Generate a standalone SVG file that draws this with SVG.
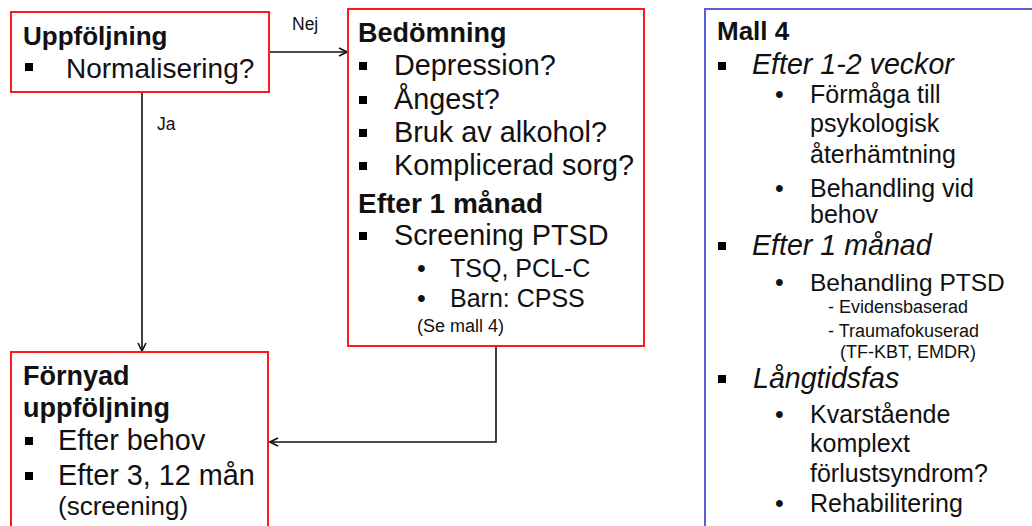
<svg xmlns="http://www.w3.org/2000/svg" width="1032" height="526" viewBox="0 0 1032 526">
<style>
.box{fill:#fff;stroke:#ff1a1a;stroke-width:2}
.bbox{fill:#fff;stroke:#5c5cd6;stroke-width:2}
text{font-family:"Liberation Sans",Arial,sans-serif;fill:#111}
.h{font-size:27px;font-weight:bold}
.t{font-size:28.8px}
.s{font-size:25px}
.i{font-size:28.6px;font-style:italic}
.xs{font-size:18px}
.lbl{font-size:17.5px}
.sq{fill:#000}
.con{fill:none;stroke:#111;stroke-width:1.6}
</style>
<defs>
<marker id="arr" viewBox="0 0 10 10" refX="9" refY="5" markerWidth="10" markerHeight="10" markerUnits="userSpaceOnUse" orient="auto">
<path d="M1,1 L9,5 L1,9" fill="none" stroke="#111" stroke-width="1.6"/>
</marker>
</defs>
<rect width="1032" height="526" fill="#fff"/>

<g id="connectors">
<line class="con" x1="269" y1="52" x2="347" y2="52" marker-end="url(#arr)"/>
<line class="con" x1="142" y1="92" x2="142" y2="351" marker-end="url(#arr)"/>
<polyline class="con" points="496,346 496,442 270,442" marker-end="url(#arr)"/>
<text class="lbl" x="292" y="30">Nej</text>
<text class="lbl" x="157" y="130">Ja</text>
</g>

<g id="uppfoljning">
<rect class="box" x="11" y="12" width="258" height="80"/>
<text class="h" x="23" y="45" style="font-size:26px">Uppföljning</text>
<rect class="sq" x="25" y="63" width="8" height="8"/>
<text class="t" x="66" y="78" style="font-size:28px">Normalisering?</text>
</g>

<g id="bedomning">
<rect class="box" x="348" y="9" width="296" height="337"/>
<text class="h" x="358" y="42">Bedömning</text>
<rect class="sq" x="359" y="62" width="8" height="8"/>
<text class="t" x="394" y="75">Depression?</text>
<rect class="sq" x="359" y="96" width="8" height="8"/>
<text class="t" x="394" y="109">Ångest?</text>
<rect class="sq" x="359" y="129" width="8" height="8"/>
<text class="t" x="394" y="142">Bruk av alkohol?</text>
<rect class="sq" x="359" y="162" width="8" height="8"/>
<text class="t" x="394" y="175">Komplicerad sorg?</text>
<text class="h" x="358" y="213" style="font-size:28px">Efter 1 månad</text>
<rect class="sq" x="359" y="232" width="8" height="8"/>
<text class="t" x="394" y="245">Screening PTSD</text>
<text class="s" x="417" y="277">•</text>
<text class="s" x="450" y="277">TSQ, PCL-C</text>
<text class="s" x="417" y="307">•</text>
<text class="s" x="450" y="307">Barn: CPSS</text>
<text class="xs" x="417" y="332">(Se mall 4)</text>
</g>

<g id="fornyad">
<rect class="box" x="11" y="352" width="257" height="190"/>
<text class="h" x="23" y="385">Förnyad</text>
<text class="h" x="23" y="417">uppföljning</text>
<rect class="sq" x="25" y="437" width="8" height="8"/>
<text class="t" x="58" y="450">Efter behov</text>
<rect class="sq" x="25" y="472" width="8" height="8"/>
<text class="t" x="58" y="485">Efter 3, 12 mån</text>
<text class="t" x="58" y="515" style="font-size:26px">(screening)</text>
</g>

<g id="mall4">
<rect class="bbox" x="705" y="9" width="345" height="530"/>
<text class="h" x="717" y="40" style="font-size:26px">Mall 4</text>
<rect class="sq" x="718" y="62" width="8" height="8"/>
<text class="i" x="752" y="74">Efter 1-2 veckor</text>
<text class="s" x="775" y="103">•</text>
<text class="s" x="810" y="103">Förmåga till</text>
<text class="s" x="810" y="132">psykologisk</text>
<text class="s" x="810" y="163">återhämtning</text>
<text class="s" x="775" y="197">•</text>
<text class="s" x="810" y="197">Behandling vid</text>
<text class="s" x="810" y="223">behov</text>
<rect class="sq" x="718" y="242" width="8" height="8"/>
<text class="i" x="752" y="255">Efter 1 månad</text>
<text class="s" x="775" y="291">•</text>
<text class="s" x="810" y="291" style="font-size:24.5px">Behandling PTSD</text>
<text class="xs" x="828" y="313">- Evidensbaserad</text>
<text class="xs" x="828" y="337">- Traumafokuserad</text>
<text class="xs" x="840" y="358">(TF-KBT, EMDR)</text>
<rect class="sq" x="718" y="375" width="8" height="8"/>
<text class="i" x="753" y="388">Långtidsfas</text>
<text class="s" x="775" y="423">•</text>
<text class="s" x="810" y="423">Kvarstående</text>
<text class="s" x="810" y="452">komplext</text>
<text class="s" x="810" y="482">förlustsyndrom?</text>
<text class="s" x="775" y="512">•</text>
<text class="s" x="810" y="512">Rehabilitering</text>
</g>
</svg>
